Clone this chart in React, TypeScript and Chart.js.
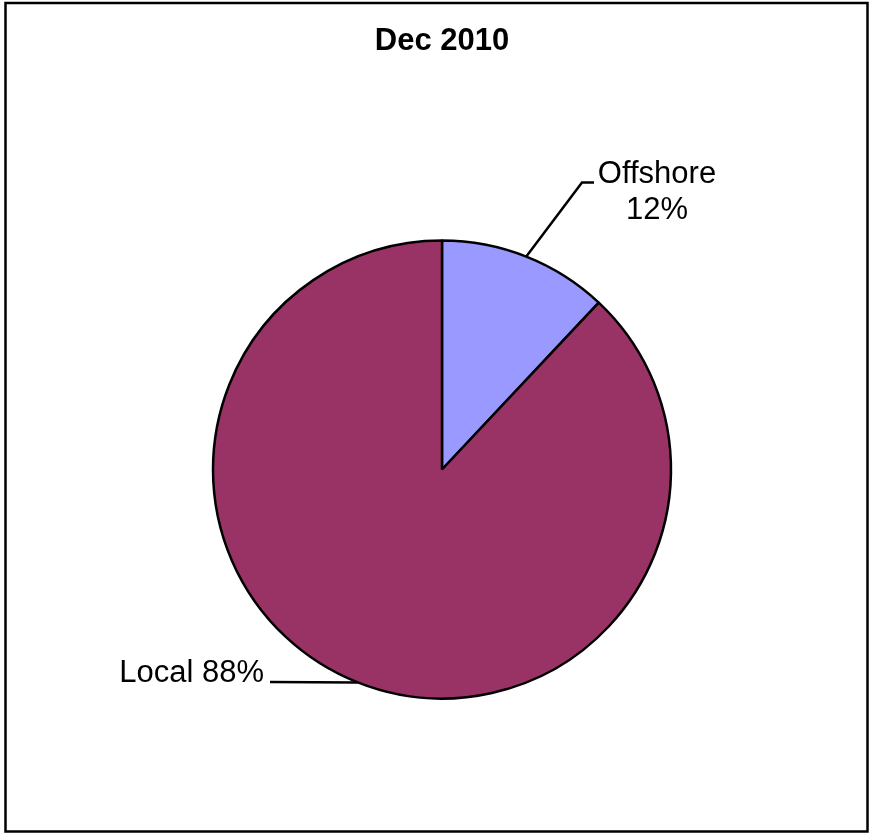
import React, { useEffect, useRef } from "react";
import { Chart, registerables } from "chart.js";

Chart.register(...registerables);

const TITLE = "Dec 2010";
const categories = ["Offshore", "Local"];
const values = [12, 88];
const sliceColors = ["#9999FF", "#993366"];

const FONT_FAMILY = "'Liberation Sans', Arial, Helvetica, sans-serif";
const FONT_SIZE = 31;
const LINE_GAP = 36;

// Label placement (layout only, not data)
const labelLayout = [
  { wrap: true, textX: 657, baselineY: 182.5, align: "center", elbow: { x: 582, y: 182.5 }, end: { x: 594, y: 182.5 } },
  { wrap: false, textX: 264, baselineY: 682, align: "right", elbow: null, end: { x: 270, y: 682 } },
];

const framePlugin = {
  id: "frame",
  afterDraw(chart: any) {
    const ctx = chart.ctx;
    ctx.save();
    ctx.strokeStyle = "#000";
    ctx.lineWidth = 2.5;
    ctx.strokeRect(5.5, 3, 862, 828.5);
    ctx.restore();
  },
};

const labelPlugin = {
  id: "pieLabels",
  afterDatasetsDraw(chart: any) {
    const ctx = chart.ctx;
    const meta = chart.getDatasetMeta(0);
    const total = values.reduce((a, b) => a + b, 0);
    ctx.save();
    meta.data.forEach((arc: any, i: number) => {
      const p = arc.getProps(["x", "y", "startAngle", "endAngle", "outerRadius"], true);
      const mid = (p.startAngle + p.endAngle) / 2;
      const px = p.x + Math.cos(mid) * p.outerRadius;
      const py = p.y + Math.sin(mid) * p.outerRadius;
      const L = labelLayout[i];
      const pct = Math.round((values[i] / total) * 100) + "%";
      const lines = L.wrap ? [categories[i], pct] : [categories[i] + " " + pct];

      ctx.strokeStyle = "#000";
      ctx.lineWidth = 2.5;
      ctx.beginPath();
      ctx.moveTo(px, py);
      if (L.elbow) ctx.lineTo(L.elbow.x, L.elbow.y);
      ctx.lineTo(L.end.x, L.end.y);
      ctx.stroke();

      ctx.fillStyle = "#000";
      ctx.font = `${FONT_SIZE}px ${FONT_FAMILY}`;
      ctx.textAlign = L.align;
      ctx.textBaseline = "alphabetic";
      lines.forEach((t, k) => ctx.fillText(t, L.textX, L.baselineY + k * LINE_GAP));
    });
    ctx.restore();
  },
};

export default function App() {
  const ref = useRef<HTMLCanvasElement>(null);
  useEffect(() => {
    if (!ref.current) return;
    const chart = new Chart(ref.current, {
      type: "pie",
      data: {
        labels: categories,
        datasets: [
          {
            data: values,
            backgroundColor: sliceColors,
            borderColor: "#000",
            borderWidth: 2.5,
          },
        ],
      },
      options: {
        responsive: false,
        animation: false,
        radius: 229,
        layout: { padding: { left: 15, right: 0, top: 0, bottom: 0 } },
        plugins: {
          legend: { display: false },
          tooltip: { enabled: false },
          title: {
            display: true,
            text: TITLE,
            color: "#000",
            font: { family: FONT_FAMILY, size: FONT_SIZE, weight: "bold", lineHeight: 1.2 },
            padding: { top: 23, bottom: 44.8 },
          },
        },
      } as any,
      plugins: [labelPlugin, framePlugin],
    });
    return () => chart.destroy();
  }, []);
  return (
    <div style={{ position: "absolute", left: 0, top: 0, width: 869, height: 834, background: "#fff" }}>
      <canvas ref={ref} width={869} height={834} />
    </div>
  );
}
